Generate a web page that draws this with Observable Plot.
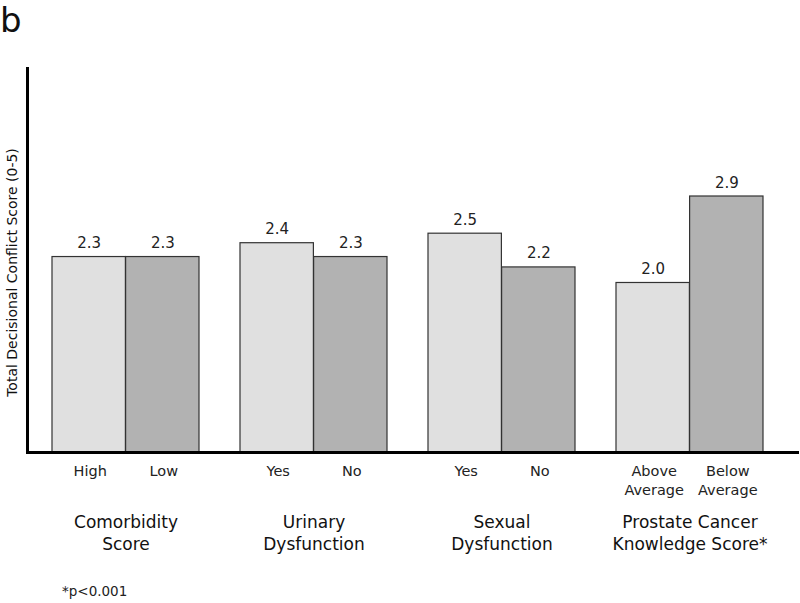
<!DOCTYPE html>
<html>
<head>
<meta charset="utf-8">
<script src="https://cdn.jsdelivr.net/npm/d3@7"></script>
<script src="https://cdn.jsdelivr.net/npm/@observablehq/plot@0.6"></script>
<style>
  html, body { margin: 0; padding: 0; background: #fff; }
  body { width: 800px; height: 603px; position: relative; overflow: hidden; font-family: "DejaVu Sans", sans-serif; color: #111; }
  #panel { position: absolute; left: 0; top: 3px; font-size: 34px; line-height: 34px; }
  #chart { position: absolute; left: 0; top: 50px; }
  #note { position: absolute; left: 62px; top: 585px; font-size: 13.5px; line-height: 1; color: #222; }
</style>
</head>
<body>
<div id="panel">b</div>
<div id="chart"></div>
<div id="note">*p&lt;0.001</div>
<script>
const groups = ["Comorbidity\nScore", "Urinary\nDysfunction", "Sexual\nDysfunction", "Prostate Cancer\nKnowledge Score*"];
const firstLabels = ["High", "Yes", "Yes", "Above\nAverage"];
const secondLabels = ["Low", "No", "No", "Below\nAverage"];
const firstValues = [2.26, 2.42, 2.53, 1.96];
const secondValues = [2.26, 2.26, 2.14, 2.96];
const firstText = ["2.3", "2.4", "2.5", "2.0"];
const secondText = ["2.3", "2.3", "2.2", "2.9"];
const yLabel = "Total Decisional Conflict Score (0-5)";

const first = groups.map((g, i) => ({group: g, value: firstValues[i], text: firstText[i], sub: firstLabels[i]}));
const second = groups.map((g, i) => ({group: g, value: secondValues[i], text: secondText[i], sub: secondLabels[i]}));

const W = 800, H = 520;
const mL = 27, mR = 3, mT = 18, mB = 118;
const xStart = 52, xEnd = 764, padIn = 0.218;
const step = (xEnd - xStart) / (groups.length - padIn);
const half = step * (1 - padIn) / 2;

const font = "DejaVu Sans, sans-serif";

const chart = Plot.plot({
  width: W,
  height: H,
  marginLeft: mL,
  marginRight: mR,
  marginTop: mT,
  marginBottom: mB,
  style: {fontFamily: font, background: "#fff", overflow: "visible"},
  x: {type: "band", domain: groups, range: [xStart, xEnd], paddingInner: padIn, paddingOuter: 0, axis: null},
  y: {domain: [0, 4.44], axis: null},
  marks: [
    Plot.barY(first, {x: "group", y: "value", fill: "#e0e0e0", stroke: "#333", strokeWidth: 1.2, insetRight: half}),
    Plot.barY(second, {x: "group", y: "value", fill: "#b2b2b2", stroke: "#333", strokeWidth: 1.2, insetLeft: half}),
    Plot.text(first, {x: "group", y: "value", text: "text", dx: -half / 2, dy: -9, lineAnchor: "bottom", fontSize: 15, fill: "#222"}),
    Plot.text(second, {x: "group", y: "value", text: "text", dx: half / 2, dy: -9, lineAnchor: "bottom", fontSize: 15, fill: "#222"}),
    Plot.text(first, {x: "group", frameAnchor: "bottom", text: "sub", dx: -half / 2 + 1, dy: 10, lineAnchor: "top", lineHeight: 1.3, fontSize: 14.5, fill: "#222"}),
    Plot.text(second, {x: "group", frameAnchor: "bottom", text: "sub", dx: half / 2 + 1, dy: 10, lineAnchor: "top", lineHeight: 1.3, fontSize: 14.5, fill: "#222"}),
    Plot.text(groups, {x: d => d, frameAnchor: "bottom", text: d => d, dy: 60, lineAnchor: "top", lineHeight: 1.3, fontSize: 17, fill: "#111"}),
    Plot.text([yLabel], {frameAnchor: "left", textAnchor: "middle", text: d => d, rotate: -90, dx: -15, dy: 12, fontSize: 14, fill: "#111"}),
    Plot.frame({anchor: "left", stroke: "#000", strokeWidth: 3}),
    Plot.frame({anchor: "bottom", stroke: "#000", strokeWidth: 3})
  ]
});
document.getElementById("chart").appendChild(chart);
</script>
</body>
</html>
